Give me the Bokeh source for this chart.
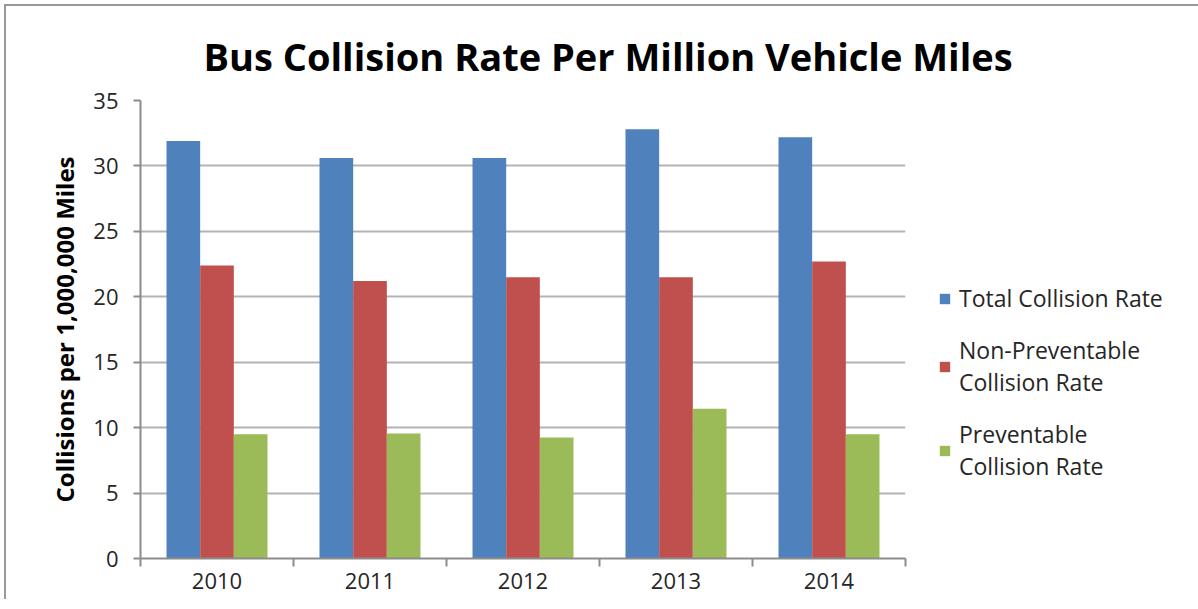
from bokeh.plotting import figure
from bokeh.models import (ColumnDataSource, Range1d, FixedTicker, Legend, LegendItem)
from bokeh.embed import file_html
from bokeh.resources import INLINE

years = ["2010", "2011", "2012", "2013", "2014"]
total = [31.9, 30.6, 30.6, 32.8, 32.2]
non_prev = [22.4, 21.2, 21.5, 21.5, 22.7]
prev = [9.5, 9.55, 9.25, 11.45, 9.5]
series_names = ["Total Collision Rate", "Non-Preventable\nCollision Rate", "Preventable\nCollision Rate"]
colors = ["#4F81BD", "#C0504D", "#9BBB59"]
y_ticks = [0, 5, 10, 15, 20, 25, 30, 35]

FONT = "Open Sans"

p = figure(frame_width=765, frame_height=458, output_backend="svg", toolbar_location=None,
           x_range=Range1d(0, len(years)), y_range=Range1d(0, 35),
           min_border_left=134, min_border_right=0, min_border_top=94, min_border_bottom=41,
           title="Bus Collision Rate Per Million Vehicle Miles")
p.outline_line_color = None
p.background_fill_color = "white"
p.border_fill_color = "white"

bw = 0.22
centers = [i + 0.5 for i in range(len(years))]
vals = [total, non_prev, prev]
offsets = [-bw, 0, bw]
renderers = []
for k in range(3):
    src = ColumnDataSource(dict(x=[c + offsets[k] for c in centers], top=vals[k]))
    r = p.vbar(x="x", top="top", width=bw, bottom=0, source=src,
               fill_color=colors[k], line_color=None)
    renderers.append(r)

# x axis
xa = p.xaxis[0]
xa.ticker = FixedTicker(ticks=centers, minor_ticks=list(range(len(years) + 1)))
xa.major_label_overrides = {c: y for c, y in zip(centers, years)}
xa.major_tick_line_color = None
xa.minor_tick_line_color = "#8c8c8c"
xa.minor_tick_line_width = 2
xa.minor_tick_out = 8
xa.minor_tick_in = 0
xa.axis_line_color = "#8c8c8c"
xa.axis_line_width = 2
xa.major_label_text_font = FONT
xa.major_label_text_font_size = "22px"
xa.major_label_text_color = "#262626"
xa.major_label_standoff = 6

# y axis
ya = p.yaxis[0]
ya.ticker = FixedTicker(ticks=y_ticks, minor_ticks=[])
ya.major_tick_line_color = "#8c8c8c"
ya.major_tick_line_width = 2
ya.major_tick_out = 7
ya.major_tick_in = 0
ya.axis_line_color = "#8c8c8c"
ya.axis_line_width = 2
ya.major_label_text_font = FONT
ya.major_label_text_font_size = "22px"
ya.major_label_text_color = "#262626"
ya.major_label_standoff = 15
ya.axis_label = "Collisions per 1,000,000 Miles"
ya.axis_label_text_font = FONT
ya.axis_label_text_font_style = "bold"
ya.axis_label_text_font_size = "24px"
ya.axis_label_text_color = "#000000"
ya.axis_label_standoff = 9

p.xgrid.grid_line_color = None
p.ygrid.grid_line_color = "#b3b3b3"
p.ygrid.grid_line_width = 2

p.title.text_font = FONT
p.title.text_font_size = "38px"
p.title.text_font_style = "bold"
p.title.align = "left"
p.title.offset = 63
p.title.standoff = 38
p.title.text_color = "#000000"

items = [LegendItem(label=series_names[k], renderers=[renderers[k]]) for k in range(3)]
legend = Legend(items=items, location=(33, 76), orientation="vertical",
                label_text_font=FONT, label_text_font_size="23px",
                label_text_line_height=1.4,
                label_text_color="#262626", glyph_width=13, glyph_height=13,
                padding=0, margin=0, spacing=20, label_standoff=8,
                border_line_color=None, background_fill_alpha=0)
p.add_layout(legend, "right")

p.styles = {"border-left": "2px solid #999999", "border-top": "2px solid #999999",
            "margin-left": "4px", "margin-top": "4px"}

open("out.html", "w").write(file_html(p, INLINE))
